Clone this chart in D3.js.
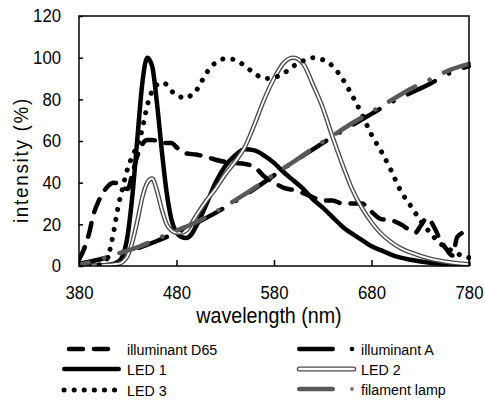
<!DOCTYPE html>
<html>
<head>
<meta charset="utf-8">
<script src="https://cdn.jsdelivr.net/npm/d3@7"></script>
<style>
  body { margin: 0; background: #fff; }
  text { font-family: "Liberation Sans", Arial, sans-serif; fill: #000; }
</style>
</head>
<body>
<div id="chart"></div>
<script>
// wavelengths (nm) and intensity (%)
let wl_led1 = [380, 400, 410, 420, 425, 430, 435, 440, 445, 450, 455, 460, 465, 470, 475, 480, 485, 490, 495, 500, 510, 520, 530, 540, 550, 560, 570, 580, 590, 600, 610, 620, 630, 640, 650, 660, 670, 680, 690, 700, 710, 720, 740, 760, 780];
let led1 = [0, 0.2, 0.5, 2, 5, 15, 35, 62, 88, 100, 96, 78, 55, 35, 22, 16, 14, 13.5, 15, 19, 29, 40, 48, 53, 56, 55.5, 53, 49.5, 45, 41, 37, 32, 28, 23.5, 19, 15.5, 12.5, 9.5, 7.5, 5.5, 4, 3, 1.5, 0.8, 0.4];

let wl_led2 = [380, 400, 420, 425, 430, 435, 440, 445, 450, 455, 460, 465, 470, 475, 480, 485, 490, 500, 510, 520, 530, 540, 550, 560, 570, 580, 590, 600, 610, 620, 630, 640, 650, 660, 670, 680, 690, 700, 710, 720, 740, 760, 780];
let led2 = [0, 0.3, 1, 2, 5, 12, 22, 33, 40, 42, 36, 27, 20, 17, 16, 16, 17, 24, 31, 37, 44, 50, 57, 68, 80, 90, 97.5, 100, 97, 87, 76, 62, 49, 37, 28, 21, 15.5, 11.5, 8.5, 6.5, 3.5, 1.8, 0.9];

let wl_led3 = [380, 390, 400, 405, 410, 415, 420, 425, 430, 435, 440, 445, 450, 455, 460, 465, 470, 475, 480, 485, 490, 495, 500, 505, 510, 515, 520, 530, 540, 550, 560, 570, 580, 590, 600, 610, 620, 630, 640, 650, 660, 670, 680, 690, 700, 710, 720, 730, 740, 750, 760, 770, 780];
let led3 = [0, 0.2, 0.5, 1.5, 5, 15, 28, 38, 47, 53, 58, 66, 77, 84, 87, 88, 87, 84, 82, 81, 80.5, 82, 84, 88, 92, 95.5, 97.5, 99.5, 99, 96, 92.5, 90, 90.5, 92.5, 96, 98.5, 100, 99, 96, 90, 82, 73, 63, 55, 46, 36, 29, 22, 16, 11, 8, 5.5, 4];

let wl_d65 = [380, 385, 390, 395, 400, 405, 410, 415, 420, 425, 430, 435, 440, 445, 450, 455, 460, 465, 470, 475, 480, 485, 490, 500, 510, 520, 530, 540, 550, 560, 570, 580, 590, 600, 610, 620, 630, 640, 650, 660, 670, 680, 690, 700, 710, 720, 725, 730, 737, 745, 750, 757, 763, 768, 775, 780];
let d65 = [3, 8, 15, 25, 31, 35.5, 38.5, 40, 39.5, 37.5, 37, 45, 53, 58.5, 60.5, 60.5, 60, 59, 59, 59, 57, 55, 54, 53.5, 52.5, 51, 50, 49.5, 49, 47.5, 43, 40, 37.5, 36.5, 35, 33, 31.5, 31.5, 30, 30, 30, 26, 22.5, 22, 20, 17, 16, 19, 23, 18, 13, 8, 5, 14, 16, 15];

let wl_a = [380, 400, 420, 440, 460, 480, 500, 520, 540, 560, 580, 600, 620, 640, 660, 680, 700, 720, 740, 760, 780];
let illumA = [1, 3, 5.5, 8.5, 12, 16, 20.5, 25.5, 31, 37, 43.5, 50, 56, 62, 67.5, 73, 78.5, 83, 87.5, 92.5, 96];
let filament = [0.5, 3, 6, 9, 13, 17, 21, 26, 31.5, 37.5, 44, 50, 56.5, 62.5, 68.5, 74, 79.5, 85, 89.5, 94, 97];

let xTicks = [380, 480, 580, 680, 780];
let yTicks = [0, 20, 40, 60, 80, 100, 120];

const WIDTH = 485;
const HEIGHT = 403;
const LEFT = 79, RIGHT = 469, TOP = 16, BOTTOM = 266;
const SQUEEZE = 0.9; // narrow look of the original font

const svg = d3.select("#chart")
    .append("svg")
    .attr("width", WIDTH)
    .attr("height", HEIGHT);

const xScale = d3.scaleLinear().domain([380, 780]).range([LEFT, RIGHT]);
const yScale = d3.scaleLinear().domain([0, 120]).range([BOTTOM, TOP]);

svg.append("clipPath").attr("id", "plotClip")
    .append("rect")
    .attr("x", LEFT).attr("y", TOP - 2)
    .attr("width", RIGHT - LEFT + 2).attr("height", BOTTOM - TOP + 2);

const line = d3.line()
    .x(d => xScale(d[0]))
    .y(d => yScale(d[1]))
    .curve(d3.curveMonotoneX);

function pairs(xs, ys) {
    return xs.map((x, i) => [x, ys[i]]);
}

// series styles
let series = [
    { name: "illuminant D65", data: pairs(wl_d65, d65), stroke: "#000", width: 4.5, dash: "14,11" },
    { name: "LED 1", data: pairs(wl_led1, led1), stroke: "#000", width: 4.5, dash: null },
    { name: "LED 2", data: pairs(wl_led2, led2), stroke: "#4a4a4a", width: 4.5, dash: null, inner: true },
    { name: "LED 3", data: pairs(wl_led3, led3), stroke: "#000", width: 5, dash: "0.1,10" },
    { name: "illuminant A", data: pairs(wl_a, illumA), stroke: "#000", width: 4.5, dash: "30,16,0.1,16", offset: 0 },
    { name: "filament lamp", data: pairs(wl_a, filament), stroke: "#595959", width: 4.5, dash: "30,16,0.1,16", offset: 20 }
];

const plot = svg.append("g").attr("clip-path", "url(#plotClip)");

series.forEach(s => {
    plot.append("path")
        .datum(s.data)
        .attr("fill", "none")
        .attr("stroke", s.stroke)
        .attr("stroke-width", s.width)
        .attr("stroke-linecap", "round")
        .attr("stroke-linejoin", "round")
        .attr("stroke-dasharray", s.dash)
        .attr("stroke-dashoffset", s.offset || 0)
        .attr("d", line);
    if (s.inner) {
        plot.append("path")
            .datum(s.data)
            .attr("fill", "none")
            .attr("stroke", "#fff")
            .attr("stroke-width", 1.8)
            .attr("d", line);
    }
});

// frame
svg.append("rect")
    .attr("x", LEFT).attr("y", TOP)
    .attr("width", RIGHT - LEFT).attr("height", BOTTOM - TOP)
    .attr("fill", "none")
    .attr("stroke", "#000")
    .attr("stroke-width", 1.5);

// x axis (ticks inside)
const xAxis = d3.axisBottom(xScale)
    .tickValues(xTicks)
    .tickSizeInner(-6)
    .tickSizeOuter(0)
    .tickPadding(0);

const gx = svg.append("g")
    .attr("transform", `translate(0, ${BOTTOM})`)
    .call(xAxis);
gx.select(".domain").remove();
gx.selectAll(".tick line").attr("stroke", "#000").attr("stroke-width", 1.5);
gx.selectAll(".tick text")
    .attr("font-family", "Liberation Sans, Arial, sans-serif")
    .attr("font-size", 18.6)
    .attr("y", 33).attr("dy", null)
    .attr("transform", `scale(${SQUEEZE},1)`);

// y axis (ticks inside)
const yAxis = d3.axisLeft(yScale)
    .tickValues(yTicks)
    .tickSizeInner(-4)
    .tickSizeOuter(0)
    .tickPadding(18);

const gy = svg.append("g")
    .attr("transform", `translate(${LEFT}, 0)`)
    .call(yAxis);
gy.select(".domain").remove();
gy.selectAll(".tick line").attr("stroke", "#000").attr("stroke-width", 1.5);
gy.selectAll(".tick text")
    .attr("font-family", "Liberation Sans, Arial, sans-serif")
    .attr("font-size", 18.6)
    .attr("x", -18 / SQUEEZE)
    .attr("transform", `scale(${SQUEEZE},1)`);

// axis titles
svg.append("text")
    .attr("transform", `translate(269, 323) scale(0.915,1)`)
    .attr("text-anchor", "middle")
    .attr("font-size", 21.5)
    .text("wavelength (nm)");

svg.append("text")
    .attr("transform", `translate(28, 160) rotate(-90) scale(${SQUEEZE},1)`)
    .attr("text-anchor", "middle")
    .attr("font-size", 21)
    .attr("letter-spacing", 1.9)
    .text("intensity (%)");

// legend
let legendRows = [
    { s: 0, x: 62, y: 349, len: 56, dot: false },
    { s: 4, x: 297, y: 349, len: 38, dot: true },
    { s: 1, x: 62, y: 369, len: 59, dot: false },
    { s: 2, x: 297, y: 369, len: 59, dot: false },
    { s: 3, x: 64, y: 390, len: 52, dot: false },
    { s: 5, x: 297, y: 389, len: 38, dot: true }
];

const legend = svg.append("g");
legendRows.forEach(r => {
    const s = series[r.s];
    let x1 = r.x + s.width / 2, x2 = r.x + r.len - s.width / 2;
    let dash = r.dot ? null : s.dash;
    if (r.s === 0) { x1 = r.x + 7; x2 = r.x + r.len; }
    if (r.s === 3) { x1 = r.x; x2 = r.x + r.len; }
    legend.append("line")
        .attr("x1", x1).attr("x2", x2)
        .attr("y1", r.y).attr("y2", r.y)
        .attr("stroke", s.stroke)
        .attr("stroke-width", s.inner ? 5 : s.width)
        .attr("stroke-linecap", "round")
        .attr("stroke-dasharray", dash);
    if (s.inner) {
        legend.append("line")
            .attr("x1", x1).attr("x2", x2)
            .attr("y1", r.y).attr("y2", r.y)
            .attr("stroke", "#fff")
            .attr("stroke-linecap", "round")
            .attr("stroke-width", 2.4);
    }
    if (r.dot) {
        legend.append("circle")
            .attr("cx", 352).attr("cy", r.y)
            .attr("r", r.s === 5 ? 1.9 : 2.3)
            .attr("fill", r.s === 5 ? "#777" : s.stroke);
    }
    const tx = r.x < 200 ? 127 : 361;
    legend.append("text")
        .attr("transform", `translate(${tx}, ${r.y + 6}) scale(0.92,1)`)
        .attr("font-size", 15.5)
        .text(s.name);
});
</script>
</body>
</html>
